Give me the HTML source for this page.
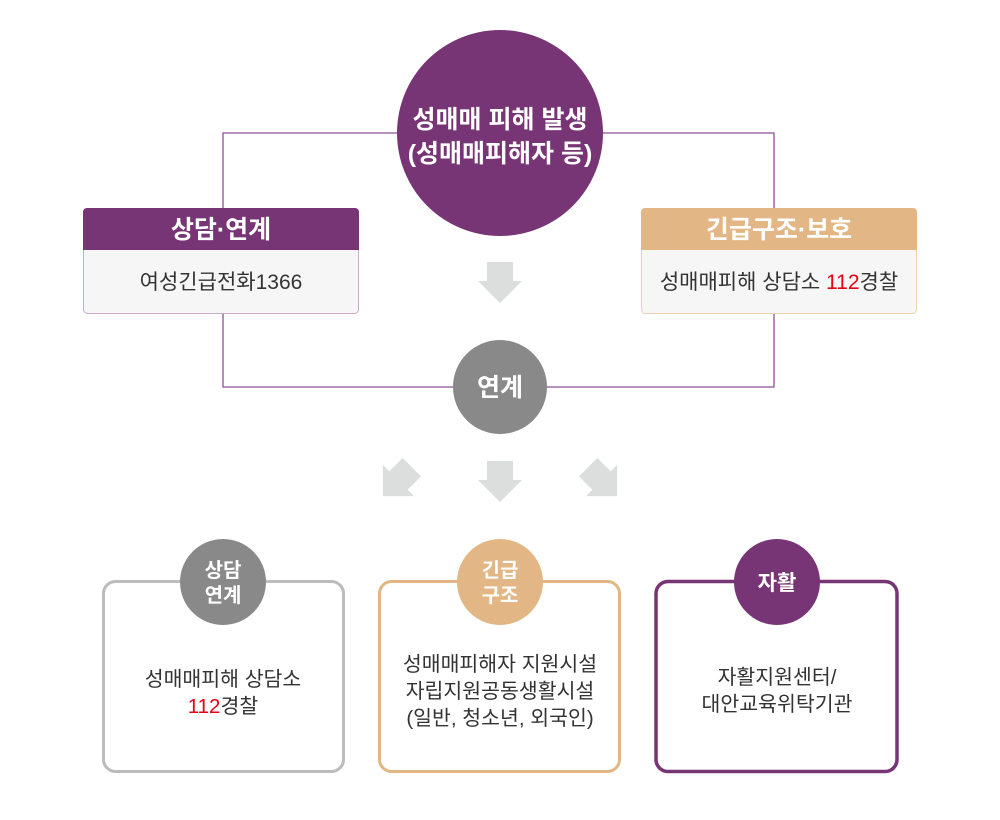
<!DOCTYPE html>
<html><head><meta charset="utf-8"><style>
html,body{margin:0;padding:0;background:#fff;}
svg{display:block;font-family:"Liberation Sans","Noto Sans CJK KR",sans-serif;}
</style></head><body>
<svg width="1000" height="820" viewBox="0 0 1000 820" xmlns="http://www.w3.org/2000/svg">
<defs>
<polygon id="dn" points="-13,-21 13,-21 13,-2 22,-2 0,20 -22,-2 -13,-2" fill="#dcdddd"/>
</defs>
<polyline points="223,208 223,133 420,133" fill="none" stroke="#8d4f93" stroke-width="1.3"/>
<polyline points="580,133 774,133 774,208" fill="none" stroke="#8d4f93" stroke-width="1.3"/>
<polyline points="223,313 223,387 470,387" fill="none" stroke="#8d4f93" stroke-width="1.3"/>
<polyline points="774,313 774,387 530,387" fill="none" stroke="#8d4f93" stroke-width="1.3"/>

<circle cx="500" cy="133" r="103" fill="#773575"/>
<text x="500" y="128" text-anchor="middle" font-size="25" font-weight="bold" fill="#fff">성매매 피해 발생</text>
<text x="500" y="162" text-anchor="middle" font-size="25" font-weight="bold" fill="#fff">(성매매피해자 등)</text>

<rect x="83.5" y="208.5" width="275" height="105" rx="4" fill="#f6f6f6" stroke="#c9aac8"/>
<path d="M83,250 V212 a4,4 0 0 1 4,-4 H355 a4,4 0 0 1 4,4 V250 Z" fill="#773575"/>
<text x="221" y="238" text-anchor="middle" font-size="25" font-weight="bold" fill="#fff">상담·연계</text>
<text x="221" y="289" text-anchor="middle" font-size="21" fill="#333">여성긴급전화1366</text>

<rect x="641.5" y="208.5" width="275" height="105" rx="4" fill="#f6f6f6" stroke="#e8d2b4"/>
<path d="M641,250 V212 a4,4 0 0 1 4,-4 H913 a4,4 0 0 1 4,4 V250 Z" fill="#e2b785"/>
<text x="779" y="238" text-anchor="middle" font-size="25" font-weight="bold" fill="#fff">긴급구조·보호</text>
<text x="779" y="289" text-anchor="middle" font-size="21" fill="#333">성매매피해 상담소 <tspan fill="#e60012">112</tspan>경찰</text>

<use href="#dn" x="500" y="283"/>
<use href="#dn" x="500" y="482"/>
<use href="#dn" transform="translate(397,482) rotate(45)"/>
<use href="#dn" transform="translate(603,482) rotate(-45)"/>

<circle cx="500" cy="387" r="47" fill="#898989"/>
<text x="500" y="396" text-anchor="middle" font-size="25" font-weight="bold" fill="#fff">연계</text>

<rect x="103.5" y="581.5" width="240" height="190" rx="12" fill="#fff" stroke="#bcbcbc" stroke-width="3"/>
<circle cx="223" cy="582" r="43" fill="#898989"/>
<text x="223" y="577" text-anchor="middle" font-size="20" font-weight="bold" fill="#fff">상담</text>
<text x="223" y="602" text-anchor="middle" font-size="20" font-weight="bold" fill="#fff">연계</text>
<text x="223" y="686" text-anchor="middle" font-size="20.5" fill="#333">성매매피해 상담소</text>
<text x="223" y="713" text-anchor="middle" font-size="20.5" fill="#333"><tspan fill="#e60012">112</tspan>경찰</text>

<rect x="379.5" y="581.5" width="240" height="190" rx="12" fill="#fff" stroke="#e2b785" stroke-width="3"/>
<circle cx="500" cy="582" r="43" fill="#e2b785"/>
<text x="500" y="577" text-anchor="middle" font-size="20" font-weight="bold" fill="#fff">긴급</text>
<text x="500" y="602" text-anchor="middle" font-size="20" font-weight="bold" fill="#fff">구조</text>
<text x="500" y="671" text-anchor="middle" font-size="20.5" fill="#333">성매매피해자 지원시설</text>
<text x="500" y="698" text-anchor="middle" font-size="20.5" fill="#333">자립지원공동생활시설</text>
<text x="500" y="725" text-anchor="middle" font-size="20.5" fill="#333">(일반, 청소년, 외국인)</text>

<rect x="656" y="581.5" width="241" height="190" rx="12" fill="#fff" stroke="#773575" stroke-width="3.5"/>
<circle cx="777" cy="582" r="43" fill="#773575"/>
<text x="777" y="590" text-anchor="middle" font-size="21" font-weight="bold" fill="#fff">자활</text>
<text x="777" y="684" text-anchor="middle" font-size="20.5" fill="#333">자활지원센터/</text>
<text x="777" y="711" text-anchor="middle" font-size="20.5" fill="#333">대안교육위탁기관</text>
</svg>
</body></html>
